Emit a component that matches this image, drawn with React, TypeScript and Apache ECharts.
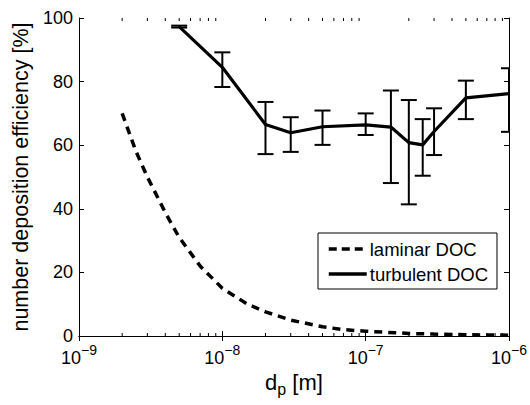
import React, { useEffect, useRef } from "react";
import * as echarts from "echarts";

// ---- data ----
const turbX = [5e-9, 1e-8, 2e-8, 3e-8, 5e-8, 1e-7, 1.5e-7, 2e-7, 2.5e-7, 3e-7, 5e-7, 1e-6];
const turbMean = [97.3, 84.5, 66.5, 63.9, 65.8, 66.4, 65.7, 60.8, 60.1, 64.3, 74.9, 76.2];
const turbLow = [97.0, 78.3, 57.2, 57.9, 60.1, 63.2, 48.1, 41.4, 50.4, 56.9, 68.2, 64.2];
const turbHigh = [97.6, 89.2, 73.6, 68.8, 70.9, 70.0, 77.2, 74.2, 68.2, 71.6, 80.3, 84.2];

const laminarX = [2e-9, 2.5e-9, 3e-9, 4e-9, 5e-9, 7e-9, 1e-8, 1.5e-8, 2e-8, 3e-8, 5e-8, 7e-8, 1e-7, 2e-7, 3e-7, 5e-7, 1e-6];
const laminarY = [70, 58, 50, 38.8, 31, 22, 15, 10, 7.6, 5, 2.9, 2.0, 1.5, 0.8, 0.6, 0.4, 0.25];

const xTickExponents = [-9, -8, -7, -6];
const yTickValues = [0, 20, 40, 60, 80, 100];
const seriesNames = ["laminar DOC", "turbulent DOC"];

const FONT = "Liberation Sans, Arial, Helvetica, sans-serif";

export default function App() {
  const ref = useRef<HTMLDivElement>(null);
  useEffect(() => {
    if (!ref.current) return;
    const chart = echarts.init(ref.current, undefined, { renderer: "svg" });

    const xMin = Math.pow(10, xTickExponents[0]);
    const xMax = Math.pow(10, xTickExponents[xTickExponents.length - 1]);
    const minorTicks: number[] = [];
    for (let e = xTickExponents[0]; e < xTickExponents[xTickExponents.length - 1]; e++) {
      for (let m = 2; m <= 9; m++) minorTicks.push(m * Math.pow(10, e));
    }

    const xLabelFmt = (v: number) => {
      const e = Math.round(Math.log10(v));
      return `{b|10}{s|${e < 0 ? "\u2212" : ""}${Math.abs(e)}}`;
    };

    const commonX = {
      type: "log" as const,
      logBase: 10,
      min: xMin,
      max: xMax,
      splitLine: { show: false },
      axisLine: { show: true, lineStyle: { color: "#000", width: 1 } },
      axisTick: { show: true, inside: true, length: 5, lineStyle: { color: "#000" } },
    };
    const commonY = {
      type: "value" as const,
      min: yTickValues[0],
      max: yTickValues[yTickValues.length - 1],
      interval: yTickValues[1] - yTickValues[0],
      splitLine: { show: false },
      axisLine: { show: true, lineStyle: { color: "#000", width: 1 } },
      axisTick: { show: true, inside: true, length: 5, lineStyle: { color: "#000" } },
    };

    chart.setOption({
      animation: false,
      backgroundColor: "#fff",
      textStyle: { fontFamily: FONT },
      grid: { left: 79, top: 18, width: 433, height: 318, containLabel: false },
      legend: {
        show: true,
        orient: "vertical",
        left: 318,
        top: 233,
        padding: [6, 9, 5, 9],
        itemGap: 5,
        itemWidth: 38,
        itemHeight: 14,
        backgroundColor: "#fff",
        borderColor: "#000",
        borderWidth: 1,
        borderRadius: 0,
        itemStyle: { opacity: 0, borderWidth: 0 },
        textStyle: { fontSize: 18.5, color: "#000", fontFamily: FONT, padding: [0, 0, 0, -2], lineHeight: 20 },
        data: [
          { name: seriesNames[0], itemStyle: { opacity: 0 }, lineStyle: { type: [8, 5], width: 3.5, color: "#000" } },
          { name: seriesNames[1], itemStyle: { opacity: 0 }, lineStyle: { type: "solid", width: 3.5, color: "#000" } },
        ],
      },
      xAxis: [
        {
          ...commonX,
          position: "bottom",
          name: "{d|d}{p|p}{d| [m]}",
          nameLocation: "middle",
          nameGap: 34,
          nameTextStyle: {
            rich: {
              d: { fontSize: 22, fontFamily: FONT, color: "#000", verticalAlign: "top" },
              p: { fontSize: 16, fontFamily: FONT, color: "#000", verticalAlign: "bottom", padding: [10, 0, 0, 0] },
            },
          },
          axisLabel: {
            show: true,
            margin: 7,
            formatter: xLabelFmt,
            rich: {
              b: { fontSize: 18, fontFamily: FONT, color: "#000", verticalAlign: "bottom", padding: [6, 0, 0, 0] },
              s: { fontSize: 14, fontFamily: FONT, color: "#000", verticalAlign: "top" },
            },
          },
        },
        { ...commonX, position: "top", axisLabel: { show: false } },
      ],
      yAxis: [
        {
          ...commonY,
          position: "left",
          name: "number deposition efficiency [%]",
          nameLocation: "middle",
          nameGap: 44,
          nameTextStyle: { fontSize: 21.5, color: "#000", fontFamily: FONT },
          axisLabel: { show: true, margin: 6, fontSize: 18, color: "#000", fontFamily: FONT },
        },
        { ...commonY, position: "right", axisLabel: { show: false } },
      ],
      series: [
        {
          type: "custom",
          name: "minorTicks",
          xAxisIndex: 0,
          yAxisIndex: 0,
          silent: true,
          clip: false,
          data: minorTicks.map((v) => [v, 0]),
          renderItem: (params: any, api: any) => {
            const x = api.coord([api.value(0), 0])[0];
            const cs = params.coordSys;
            const top = cs.y;
            const bottom = cs.y + cs.height;
            const st = { stroke: "#000", lineWidth: 1 };
            return {
              type: "group",
              children: [
                { type: "line", shape: { x1: x, y1: bottom, x2: x, y2: bottom - 3 }, style: st },
                { type: "line", shape: { x1: x, y1: top, x2: x, y2: top + 3 }, style: st },
              ],
            };
          },
          z: 1,
        },
        {
          type: "line",
          name: seriesNames[0],
          data: laminarX.map((x, i) => [x, laminarY[i]]),
          symbol: "none",
          showSymbol: false,
          lineStyle: { color: "#000", width: 3.5, type: [8, 6] },
          itemStyle: { color: "#000" },
          z: 3,
        },
        {
          type: "custom",
          name: "errorbars",
          clip: true,
          data: turbX.map((x, i) => [x, turbLow[i], turbHigh[i]]),
          renderItem: (params: any, api: any) => {
            const pLow = api.coord([api.value(0), api.value(1)]);
            const pHigh = api.coord([api.value(0), api.value(2)]);
            const hw = 8;
            const st = { stroke: "#000", lineWidth: 2 };
            return {
              type: "group",
              children: [
                { type: "line", shape: { x1: pLow[0], y1: pLow[1], x2: pHigh[0], y2: pHigh[1] }, style: st },
                { type: "line", shape: { x1: pLow[0] - hw, y1: pLow[1], x2: pLow[0] + hw, y2: pLow[1] }, style: st },
                { type: "line", shape: { x1: pHigh[0] - hw, y1: pHigh[1], x2: pHigh[0] + hw, y2: pHigh[1] }, style: st },
              ],
            };
          },
          z: 4,
        },
        {
          type: "line",
          name: seriesNames[1],
          data: turbX.map((x, i) => [x, turbMean[i]]),
          symbol: "none",
          showSymbol: false,
          lineStyle: { color: "#000", width: 3.2 },
          itemStyle: { color: "#000" },
          z: 5,
        },
      ],
    });
    return () => chart.dispose();
  }, []);
  return (
    <div
      ref={ref}
      style={{ position: "fixed", left: 0, top: 0, width: 530, height: 405, background: "#fff" }}
    />
  );
}
